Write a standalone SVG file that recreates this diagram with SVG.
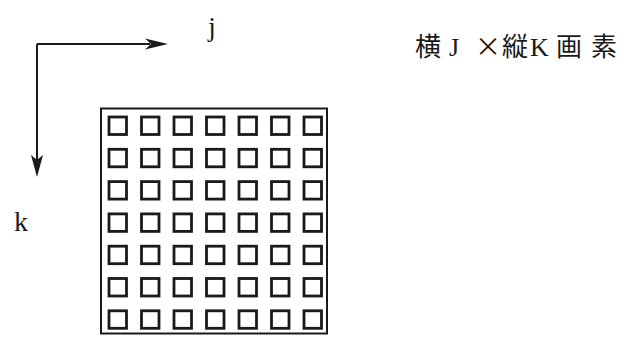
<svg xmlns="http://www.w3.org/2000/svg" width="626" height="339" viewBox="0 0 626 339">
<defs>
<style>
.ln{fill:none;stroke:#1a1a1a;stroke-width:2}
.px{fill:none;stroke:#1a1a1a;stroke-width:2.8}
.lbl{font-family:"Liberation Serif","Noto Sans CJK JP",serif;fill:#1a1a1a}
.cjk{font-family:"Noto Sans CJK JP",sans-serif}
</style>
</defs>
<rect width="626" height="339" fill="#fff"/>
<g id="axes">
<path class="ln" d="M37,44 H150 M37,44 V160"/>
<path d="M168,44 L145,38.5 L151,44 L145,49.5 Z" fill="#1a1a1a"/>
<path d="M37,177 L31,155 L37,160 L43,155 Z" fill="#1a1a1a"/>
</g>
<g id="label-j"><text class="lbl" x="212" y="36" font-size="27" text-anchor="middle">j</text></g>
<g id="label-k"><text class="lbl" x="21" y="231" font-size="28" text-anchor="middle">k</text></g>
<g id="title"><text class="lbl" y="56" font-size="26" x="415 449 475 502 530 556 591">横J<tspan class="cjk">×</tspan>縦K画素</text></g>
<g id="grid">
<rect class="ln" x="101" y="108.5" width="226" height="225"/>
<g id="cells">
<rect class="px" x="109" y="117" width="17.5" height="17.5"/><rect class="px" x="141.5" y="117" width="17.5" height="17.5"/><rect class="px" x="174" y="117" width="17.5" height="17.5"/><rect class="px" x="206.5" y="117" width="17.5" height="17.5"/><rect class="px" x="239" y="117" width="17.5" height="17.5"/><rect class="px" x="271.5" y="117" width="17.5" height="17.5"/><rect class="px" x="304" y="117" width="17.5" height="17.5"/>
<rect class="px" x="109" y="149.3" width="17.5" height="17.5"/><rect class="px" x="141.5" y="149.3" width="17.5" height="17.5"/><rect class="px" x="174" y="149.3" width="17.5" height="17.5"/><rect class="px" x="206.5" y="149.3" width="17.5" height="17.5"/><rect class="px" x="239" y="149.3" width="17.5" height="17.5"/><rect class="px" x="271.5" y="149.3" width="17.5" height="17.5"/><rect class="px" x="304" y="149.3" width="17.5" height="17.5"/>
<rect class="px" x="109" y="181.6" width="17.5" height="17.5"/><rect class="px" x="141.5" y="181.6" width="17.5" height="17.5"/><rect class="px" x="174" y="181.6" width="17.5" height="17.5"/><rect class="px" x="206.5" y="181.6" width="17.5" height="17.5"/><rect class="px" x="239" y="181.6" width="17.5" height="17.5"/><rect class="px" x="271.5" y="181.6" width="17.5" height="17.5"/><rect class="px" x="304" y="181.6" width="17.5" height="17.5"/>
<rect class="px" x="109" y="213.9" width="17.5" height="17.5"/><rect class="px" x="141.5" y="213.9" width="17.5" height="17.5"/><rect class="px" x="174" y="213.9" width="17.5" height="17.5"/><rect class="px" x="206.5" y="213.9" width="17.5" height="17.5"/><rect class="px" x="239" y="213.9" width="17.5" height="17.5"/><rect class="px" x="271.5" y="213.9" width="17.5" height="17.5"/><rect class="px" x="304" y="213.9" width="17.5" height="17.5"/>
<rect class="px" x="109" y="246.2" width="17.5" height="17.5"/><rect class="px" x="141.5" y="246.2" width="17.5" height="17.5"/><rect class="px" x="174" y="246.2" width="17.5" height="17.5"/><rect class="px" x="206.5" y="246.2" width="17.5" height="17.5"/><rect class="px" x="239" y="246.2" width="17.5" height="17.5"/><rect class="px" x="271.5" y="246.2" width="17.5" height="17.5"/><rect class="px" x="304" y="246.2" width="17.5" height="17.5"/>
<rect class="px" x="109" y="278.5" width="17.5" height="17.5"/><rect class="px" x="141.5" y="278.5" width="17.5" height="17.5"/><rect class="px" x="174" y="278.5" width="17.5" height="17.5"/><rect class="px" x="206.5" y="278.5" width="17.5" height="17.5"/><rect class="px" x="239" y="278.5" width="17.5" height="17.5"/><rect class="px" x="271.5" y="278.5" width="17.5" height="17.5"/><rect class="px" x="304" y="278.5" width="17.5" height="17.5"/>
<rect class="px" x="109" y="310.8" width="17.5" height="17.5"/><rect class="px" x="141.5" y="310.8" width="17.5" height="17.5"/><rect class="px" x="174" y="310.8" width="17.5" height="17.5"/><rect class="px" x="206.5" y="310.8" width="17.5" height="17.5"/><rect class="px" x="239" y="310.8" width="17.5" height="17.5"/><rect class="px" x="271.5" y="310.8" width="17.5" height="17.5"/><rect class="px" x="304" y="310.8" width="17.5" height="17.5"/>
</g>
</g>
</svg>
